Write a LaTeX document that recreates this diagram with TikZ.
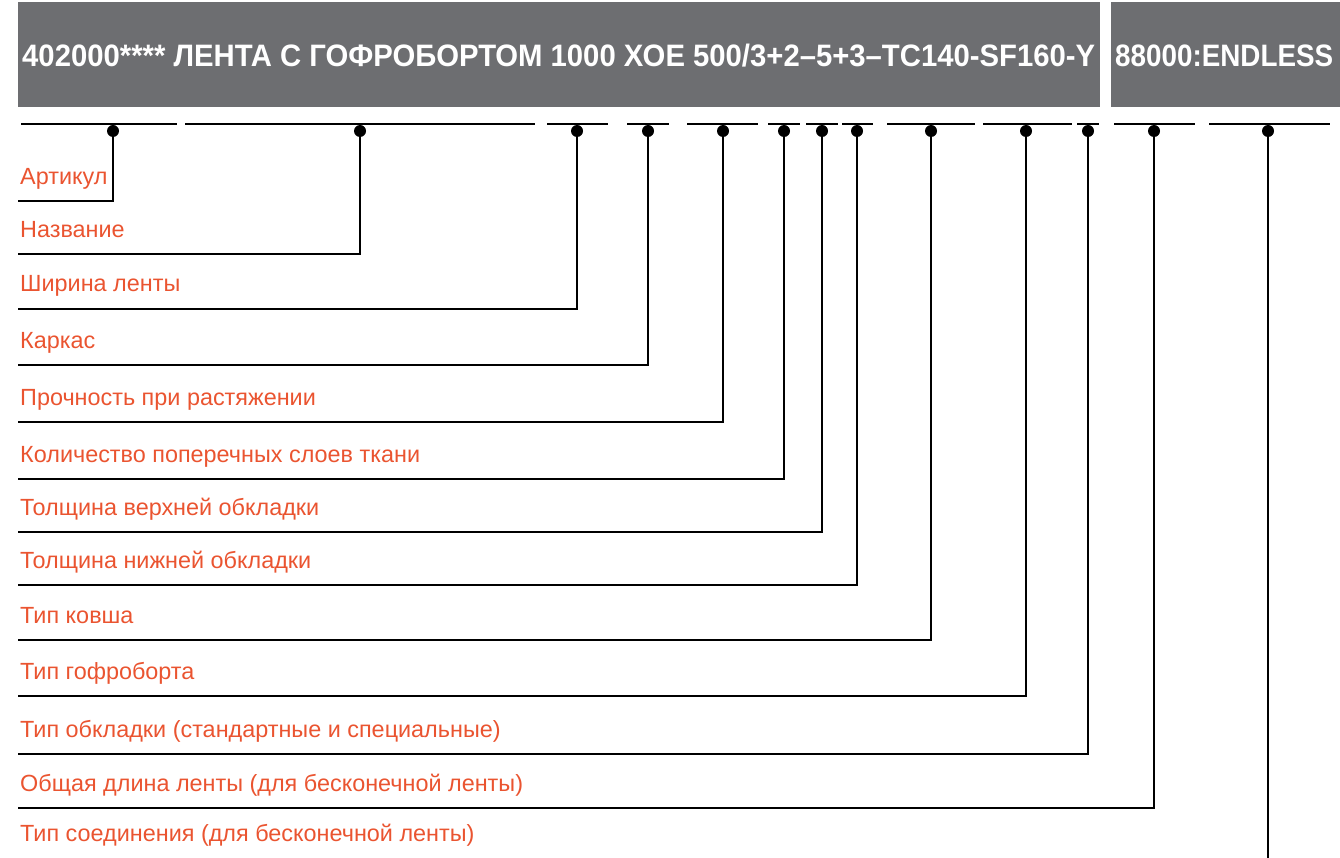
\documentclass[tikz,border=0pt]{standalone}
\usepackage{fontspec}
\setmainfont{Liberation Sans}
\definecolor{headgray}{HTML}{6D6E71}
\definecolor{labelred}{HTML}{EA5430}

\begin{document}
\begin{tikzpicture}[x=1pt,y=-1pt,
    headbox/.style={fill=headgray},
    headtext/.style={text=white,anchor=base west,inner sep=0pt,
                     font=\bfseries\fontsize{31}{31}\selectfont},
    part/.style={line width=2.8pt},
    lead/.style={line width=2.6pt},
    dot/.style={circle,fill=black,inner sep=0pt,minimum size=12pt},
    legend/.style={text=labelred,anchor=base west,inner sep=0pt,
                   font=\fontsize{23.4}{25}\selectfont}]
    \clip (0,0) rectangle (1340,858);
    % code line
    \fill[headbox] (18,2) rectangle (1100,107);
    \fill[headbox] (1111,2) rectangle (1345,107);
    \node[headtext] (code) at (22,67)
        {\resizebox{1073pt}{\height}{402000**** ЛЕНТА С ГОФРОБОРТОМ 1000 ХОЕ 500/3+2–5+3–TC140-SF160-Y}};
    \node[headtext] (len) at (1115,67)
        {\resizebox{218pt}{\height}{88000:ENDLESS}};
    % parts of the code and their meaning
    \foreach \a/\b/\x/\y/\t/\name [count=\i] in {
        21/177/113/201/185/Артикул,
        185/535/360/254/238/Название,
        547/608/577/309/292/Ширина ленты,
        627/669/648/365/348/Каркас,
        687/758/723/422/405/Прочность при растяжении,
        768/800/784/479/462/Количество поперечных слоев ткани,
        806/838/822/532/515/Толщина верхней обкладки,
        842/873/857/585/568/Толщина нижней обкладки,
        887/975/931/640/623/Тип ковша,
        983/1072/1026/696/679/Тип гофроборта,
        1077/1099/1088/754/737/Тип обкладки (стандартные и специальные),
        1114/1195/1154/808/791/Общая длина ленты (для бесконечной ленты),
        1209/1330/1268/875/841/Тип соединения (для бесконечной ленты)} {
        \draw[part] (\a,124) -- (\b,124);
        \node[dot] (dot\i) at (\x,131) {};
        \coordinate (end\i) at (18,\y);
        \node[legend] (lbl\i) at (20,\t) {\name};
        \draw[lead] (dot\i.center) |- (end\i);
    }
\end{tikzpicture}
\end{document}
